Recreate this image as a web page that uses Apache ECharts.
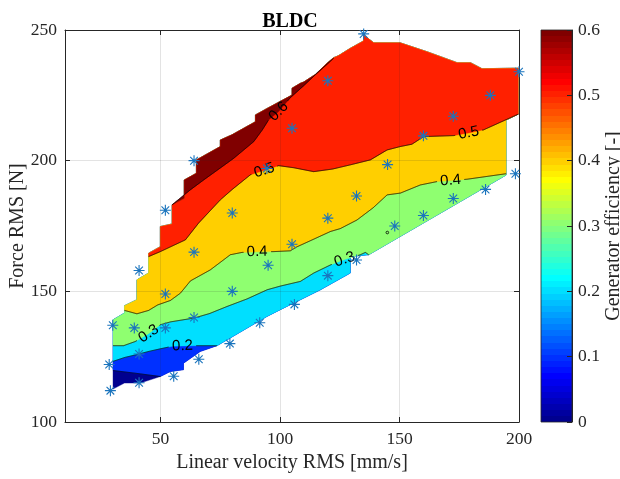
<!DOCTYPE html>
<html><head><meta charset="utf-8">
<script src="https://cdn.jsdelivr.net/npm/echarts@6/dist/echarts.min.js"></script>
<style>html,body{margin:0;padding:0;background:#fff}#c{width:620px;height:479px}</style>
</head><body><div id="c"></div>
<script>
// ---------------- data ----------------
const contourLevels = [0.1, 0.2, 0.3, 0.4, 0.5, 0.6];
const xTickValues = [50, 100, 150, 200];
const yTickValues = [100, 150, 200, 250];
const cbTickValues = [0, 0.1, 0.2, 0.3, 0.4, 0.5, 0.6];

// outline of the interpolated region [velocity mm/s, force N], counter-clockwise
const regionBoundary = [
  [30.1,112.6],[34.9,114.9],[41.5,114.9],[49.9,117.4],[54.1,119.3],[59.6,120.0],[59.6,122.5],[66.6,127.0],[73.6,129.2],
  [94.5,140.4],[100.1,143.0],[116.9,150.6],[129.4,157.0],[129.4,163.3],[137.1,164.0],[194.6,194.5],
  [194.6,215.5],[199.7,217.8],[199.7,235.4],
  [184.5,235.2],[179.7,237.5],[174.1,237.5],[161.5,241.7],[150.3,245.1],[139.2,245.1],[135.0,248.1],[134.9,245.8],
  [129.4,243.0],[124.5,240.2],[122.4,239.4],[119.8,237.4],[114.8,233.0],[109.9,230.1],[108.5,229.6],[105.0,227.7],
  [105.0,225.1],[94.8,220.1],[89.7,217.5],[89.7,214.9],[79.9,209.9],[75.0,207.9],[75.0,205.4],[65.0,200.3],[65.0,195.2],
  [59.9,192.6],[59.9,185.6],[54.8,183.1],[54.8,175.8],[49.9,174.8],[49.9,167.1],[45.0,164.6],[45.0,157.0],[40.1,154.4],
  [40.1,146.8],[34.9,144.5],[34.9,141.7],[30.1,139.1]
];

// iso-efficiency lines (start and end on the region outline)
const contour01 = [[30.1,119.7],[40.0,118.6],[49.9,117.4]];
const contour02 = [[30.1,123.2],[35.0,124.7],[40.1,125.8],[45.0,127.0],[49.9,128.0],[55.0,129.0],[59.2,129.1],[64.5,129.2],[73.6,129.2]];
const contour03 = [[30.1,129.2],[34.5,129.2],[39.4,130.8],[45.0,133.8],[49.9,137.2],[54.1,138.3],[64.1,139.8],[70.5,141.5],[77.8,144.2],[86.2,147.1],[94.6,150.6],[100.1,152.0],[108.5,153.8],[114.1,157.0],[121.1,160.1],[127.0,162.2],[133.6,164.0],[135.7,164.9],[137.1,164.0]];
const contour04 = [[34.9,142.7],[40.1,141.4],[45.0,142.7],[48.8,144.8],[54.1,146.5],[58.3,149.3],[62.5,154.0],[70.8,158.2],[79.2,164.0],[84.1,164.9],[90.4,165.1],[97.3,165.2],[104.3,165.5],[107.0,167.0],[113.0,169.5],[121.1,172.9],[125.2,174.0],[132.2,177.3],[139.0,182.0],[144.8,186.9],[150.4,187.6],[158.7,190.7],[165.7,192.0],[171.4,192.4],[178.3,192.9],[194.6,195.0]];
const contour05 = [[45.0,163.3],[49.9,165.2],[55.0,167.4],[60.4,169.7],[65.9,176.1],[75.0,185.0],[80.0,189.0],[87.6,194.6],[93.4,196.3],[99.4,198.1],[105.7,197.3],[114.1,195.8],[122.0,196.8],[129.4,198.4],[137.8,200.3],[144.8,204.1],[150.3,205.4],[155.2,206.3],[160.1,209.2],[172.7,209.6],[178.9,210.6],[185.2,211.8],[199.7,217.8]];
const contour06 = [[54.8,183.1],[62.4,188.8],[68.0,192.6],[75.0,197.2],[80.6,200.9],[89.0,207.3],[92.6,211.8],[95.2,215.6],[99.4,218.8],[104.3,224.1],[109.8,228.6],[114.8,232.9],[119.7,236.9],[122.4,239.2]];
const contourLines = [contour01, contour02, contour03, contour04, contour05, contour06];

// inline label anchor points per level
const labels01 = [];
const labels02 = [[59.2,129.1]];
const labels03 = [[45.0,133.8],[127.0,162.2]];
const labels04 = [[90.4,165.1],[171.4,192.4]];
const labels05 = [[93.4,196.3],[178.9,210.6]];
const labels06 = [[99.4,218.8]];
const contourLabels = [labels01, labels02, labels03, labels04, labels05, labels06];

// tiny closed 0.4 iso-line
const smallLoops = [[144.9,172.5]];

// measured operating points
const measVelocity = [29,28.5,30,39,41,41,41,52,52,55.5,64,64,66,79,80,91.5,95,105,106,120,132,120,132,145,160,148,160,172.5,186,198.5,135,120,105,172.5,188,200,64,52,80,94.5];
const measForce    = [112,122,137,136,158,115,126,136,149,117.5,165,140,124,130,150,138,160,168,145,156,162,178,186.5,198.5,209.5,175,179,185.5,189,195,248.5,230.6,212.4,217,225,234,200,181,180,197];

// ---------------- helpers ----------------
const CMIN = 0, CMAX = 0.6, NMAP = 64;
function jet(m){
  const n = Math.ceil(m/4), u = [];
  for (let i=1;i<=n;i++) u.push(i/n);
  for (let i=0;i<n-1;i++) u.push(1);
  for (let i=n;i>=1;i--) u.push(i/n);
  const g0 = Math.ceil(n/2) - (m%4===1?1:0);
  const J = Array.from({length:m}, ()=>[0,0,0]);
  for (let i=0;i<u.length;i++){
    const g=g0+i+1, r=g+n, b=g-n;
    if (r>=1&&r<=m) J[r-1][0]=u[i];
    if (g>=1&&g<=m) J[g-1][1]=u[i];
    if (b>=1&&b<=m) J[b-1][2]=u[i];
  }
  return J;
}
const JET = jet(NMAP);
function rgb(c){ return 'rgb(' + c.map(v=>Math.round(v*255)).join(',') + ')'; }
function colorFor(v){
  let k = Math.floor((v-CMIN)/(CMAX-CMIN)*NMAP + 1e-9);
  k = Math.max(0, Math.min(NMAP-1, k));
  return rgb(JET[k]);
}
function segDist(p,a,b){
  const dx=b[0]-a[0], dy=b[1]-a[1]; const L=dx*dx+dy*dy;
  let t = L ? ((p[0]-a[0])*dx+(p[1]-a[1])*dy)/L : 0; t=Math.max(0,Math.min(1,t));
  return Math.hypot(p[0]-a[0]-t*dx, p[1]-a[1]-t*dy);
}
function nearestSeg(p){
  const N = regionBoundary.length; let best=0, bd=Infinity;
  for (let i=0;i<N;i++){ const d=segDist(p, regionBoundary[i], regionBoundary[(i+1)%N]); if (d<bd){bd=d;best=i;} }
  return best;
}
// region where efficiency >= level: the iso-line plus the outline walked on its high side
function superLevelPolygon(line){
  const N = regionBoundary.length;
  const iS = nearestSeg(line[0]), iE = nearestSeg(line[line.length-1]);
  const poly = line.slice();
  let j = (iE+1)%N;
  for (let guard=0; guard<N+1; guard++){ poly.push(regionBoundary[j]); if (j===iS) break; j=(j+1)%N; }
  return poly;
}

const SERIF = '"Liberation Serif", "Times New Roman", serif';
const SANS = '"Liberation Sans", Arial, Helvetica, sans-serif';
const AX = '#262626';

const asterisk = 'path://M45 0L55 0L55 100L45 100Z M0 45L100 45L100 55L0 55Z M18.5 11.5L88.5 81.5L81.5 88.5L11.5 18.5Z M81.5 11.5L88.5 18.5L18.5 88.5L11.5 81.5Z';

const chart = echarts.init(document.getElementById('c'), null, {renderer:'canvas', width:620, height:479});

const fillIndex = [0,1,2,3,4,5,6];
const contourIndex = contourLines.map((_, i) => i);

const option = {
  animation: false,
  backgroundColor: '#fff',
  title: { text: 'BLDC', left: 285, top: 7, textAlign: 'center',
    textStyle: { fontFamily: SERIF, fontWeight: 'bold', fontSize: 20, color: '#000' } },
  grid: [
    { left: 65, top: 30, width: 454, height: 392, containLabel: false, outerBoundsMode: 'none' },
    { left: 541, top: 30, width: 31, height: 392, containLabel: false, outerBoundsMode: 'none' }
  ],
  xAxis: [
    { gridIndex: 0, type: 'value', min: 10, max: 200, splitNumber: 4, position: 'bottom', z: 3,
      axisLine: { show: true, onZero: false, lineStyle: { color: AX, width: 1 } },
      axisTick: { show: true, inside: true, length: 5, lineStyle: { color: AX } },
      axisLabel: { margin: 8, fontFamily: SERIF, fontSize: 17.5, color: AX,
        formatter: v => xTickValues.includes(v) ? String(v) : '' },
      splitLine: { show: true, lineStyle: { color: 'rgba(38,38,38,0.13)', width: 1 } },
      name: 'Linear velocity RMS [mm/s]', nameLocation: 'middle', nameGap: 31, nameMoveOverlap: false,
      nameTextStyle: { fontFamily: SERIF, fontSize: 20, color: AX } },
    { gridIndex: 0, type: 'value', min: 10, max: 200, splitNumber: 4, position: 'top', z: 3,
      axisLine: { show: true, onZero: false, lineStyle: { color: AX, width: 1 } },
      axisTick: { show: true, inside: true, length: 5, lineStyle: { color: AX } },
      axisLabel: { show: false }, splitLine: { show: false } },
    { gridIndex: 1, type: 'value', min: 0, max: 1, show: false }
  ],
  yAxis: [
    { gridIndex: 0, type: 'value', min: 100, max: 250, interval: 50, position: 'left', z: 3,
      axisLine: { show: true, onZero: false, lineStyle: { color: AX, width: 1 } },
      axisTick: { show: true, inside: true, length: 5, lineStyle: { color: AX } },
      axisLabel: { margin: 8, fontFamily: SERIF, fontSize: 17.5, color: AX,
        formatter: v => yTickValues.includes(v) ? String(v) : '' },
      splitLine: { show: true, lineStyle: { color: 'rgba(38,38,38,0.13)', width: 1 } },
      name: 'Force RMS [N]', nameLocation: 'middle', nameGap: 37, nameRotate: 90, nameMoveOverlap: false,
      nameTextStyle: { fontFamily: SERIF, fontSize: 20, color: AX } },
    { gridIndex: 0, type: 'value', min: 100, max: 250, interval: 50, position: 'right', z: 3,
      axisLine: { show: true, onZero: false, lineStyle: { color: AX, width: 1 } },
      axisTick: { show: true, inside: true, length: 5, lineStyle: { color: AX } },
      axisLabel: { show: false }, splitLine: { show: false } },
    { gridIndex: 1, type: 'value', min: 0, max: 0.6, interval: 0.1, position: 'right', z: 3,
      axisLine: { show: true, onZero: false, lineStyle: { color: AX, width: 1 } },
      axisTick: { show: true, inside: true, length: 5, lineStyle: { color: AX } },
      axisLabel: { margin: 6, fontFamily: SERIF, fontSize: 17.5, color: AX,
        formatter: v => { const t = cbTickValues.find(c => Math.abs(c - v) < 1e-6); return t === undefined ? '' : String(t); } },
      splitLine: { show: false },
      name: 'Generator efficiency [-]', nameLocation: 'middle', nameGap: 32, nameRotate: 90, nameMoveOverlap: false,
      nameTextStyle: { fontFamily: SERIF, fontSize: 20, color: AX } }
  ],
  series: [
    { // filled efficiency bands
      type: 'custom', xAxisIndex: 0, yAxisIndex: 0, z: 1, silent: true,
      data: fillIndex.map(i => [i, 0]),
      renderItem: (params, api) => {
        const k = api.value(0);
        const poly = k === 0 ? regionBoundary : superLevelPolygon(contourLines[k-1]);
        const col = colorFor(k === 0 ? CMIN : contourLevels[k-1]);
        return { type: 'polygon', shape: { points: poly.map(p => api.coord(p)) },
          style: { fill: col, stroke: col, lineWidth: 0.4 } };
      }
    },
    { // iso-lines with inline labels
      type: 'custom', xAxisIndex: 0, yAxisIndex: 0, z: 2, silent: true,
      data: contourIndex.map(i => [i, 0]),
      renderItem: (params, api) => {
        const k = api.value(0);
        const pts = contourLines[k].map(p => api.coord(p));
        const labs = contourLabels[k].map(p => api.coord(p));
        const R = 13.5;
        const D = [];
        for (let i = 0; i < pts.length - 1; i++) {
          const a = pts[i], b = pts[i+1];
          const n = Math.max(1, Math.ceil(Math.hypot(b[0]-a[0], b[1]-a[1]) / 0.5));
          for (let j = (i === 0 ? 0 : 1); j <= n; j++) {
            const t = j / n; D.push([a[0] + (b[0]-a[0])*t, a[1] + (b[1]-a[1])*t]);
          }
        }
        const runs = []; let cur = [];
        D.forEach(p => {
          const inside = labs.some(l => Math.hypot(p[0]-l[0], p[1]-l[1]) < R);
          if (inside) { if (cur.length > 1) runs.push(cur); cur = []; } else cur.push(p);
        });
        if (cur.length > 1) runs.push(cur);
        const children = runs.map(r => ({ type: 'polyline', shape: { points: r },
          style: { stroke: '#000', lineWidth: 0.8, fill: null } }));
        labs.forEach(l => {
          let i0 = -1, i1 = -1;
          D.forEach((p, i) => { if (Math.hypot(p[0]-l[0], p[1]-l[1]) < R) { if (i0 < 0) i0 = i; i1 = i; } });
          const a = D[Math.max(0, i0 - 1)], b = D[Math.min(D.length - 1, i1 + 1)];
          let ang = -Math.atan2(b[1]-a[1], b[0]-a[0]);
          if (ang > Math.PI/2) ang -= Math.PI; if (ang < -Math.PI/2) ang += Math.PI;
          children.push({ type: 'text', x: l[0], y: l[1], rotation: ang,
            style: { text: String(contourLevels[k]), font: '15px ' + SANS, fill: '#000', align: 'center', verticalAlign: 'middle' } });
        });
        return { type: 'group', children };
      }
    },
    { // tiny closed iso-line
      type: 'custom', xAxisIndex: 0, yAxisIndex: 0, z: 2, silent: true,
      data: smallLoops,
      renderItem: (params, api) => {
        const c = api.coord([api.value(0), api.value(1)]);
        return { type: 'circle', shape: { cx: c[0], cy: c[1], r: 1.3 }, style: { stroke: '#000', lineWidth: 0.8, fill: null } };
      }
    },
    { // measured points
      type: 'scatter', xAxisIndex: 0, yAxisIndex: 0, z: 5, silent: true,
      symbol: asterisk, symbolSize: 11,
      itemStyle: { color: '#1a74bd', opacity: 1 },
      data: measVelocity.map((v, i) => [v, measForce[i]])
    },
    { // colorbar
      type: 'custom', xAxisIndex: 2, yAxisIndex: 2, z: 1, silent: true,
      data: [[0.5, 0.3]],
      renderItem: (params, api) => {
        const p0 = api.coord([0, CMIN]), p1 = api.coord([1, CMAX]);
        const stops = [];
        JET.forEach((c, i) => { stops.push({ offset: i/NMAP, color: rgb(c) }); stops.push({ offset: (i+1)/NMAP, color: rgb(c) }); });
        return { type: 'rect', shape: { x: p0[0], y: p1[1], width: p1[0]-p0[0], height: p0[1]-p1[1] },
          style: { fill: { type: 'linear', x: 0, y: 1, x2: 0, y2: 0, colorStops: stops }, stroke: AX, lineWidth: 0.8 } };
      }
    }
  ]
};
chart.setOption(option);
</script>
</body></html>
